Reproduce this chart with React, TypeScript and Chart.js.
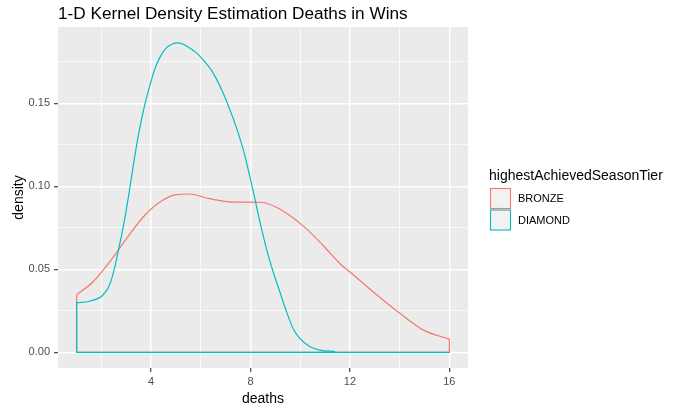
import React, { useEffect, useRef } from "react";
import { Chart, registerables } from "chart.js";

Chart.register(...registerables);

const chartTitle = "1-D Kernel Density Estimation Deaths in Wins";
const xTitle = "deaths";
const yTitle = "density";
const legendTitle = "highestAchievedSeasonTier";
const seriesNames = ["BRONZE", "DIAMOND"];
const seriesColors = ["#F8766D", "#00BFC4"];

const xMajorTicks = [4, 8, 12, 16];
const xMinorTicks = [2, 6, 10, 14];
const yMajorTicks = [0, 0.05, 0.1, 0.15];
const yMinorTicks = [0.025, 0.075, 0.125, 0.175];
const yTickLabels = ["0.00", "0.05", "0.10", "0.15"];
const xLimits = [0.25, 16.75];
const yLimits = [-0.0094, 0.196];
const dataRange = [1, 16];

const bronzeX = [1, 1.65, 2.32, 3.0, 3.67, 4.34, 5.01, 5.55, 6.22, 7.03, 7.56, 8.1, 8.5, 9.04, 9.58, 10.25, 10.92, 11.6, 12.0, 12.94, 14.02, 14.96, 16];
const bronzeY = [0.0348, 0.0424, 0.0544, 0.0684, 0.0814, 0.0904, 0.095, 0.0954, 0.093, 0.0908, 0.0905, 0.0905, 0.0903, 0.0874, 0.0824, 0.0744, 0.0644, 0.0534, 0.0484, 0.0364, 0.0234, 0.0134, 0.008];

const diamondX = [1, 1.516, 2.05, 2.32, 2.52, 2.73, 2.93, 3.13, 3.32, 3.53, 3.73, 3.94, 4.14, 4.34, 4.61, 4.85, 5.08, 5.42, 5.82, 6.08, 6.49, 6.89, 7.16, 7.43, 7.7, 7.97, 8.1, 8.24, 8.37, 8.64, 8.91, 9.18, 9.45, 9.71, 9.98, 10.39, 10.79, 11.4];
const diamondY = [0.03, 0.0308, 0.0344, 0.0404, 0.0504, 0.065, 0.08, 0.098, 0.1164, 0.1344, 0.1484, 0.1604, 0.1704, 0.1774, 0.1834, 0.1858, 0.1864, 0.1846, 0.1804, 0.1764, 0.1684, 0.1564, 0.1464, 0.1354, 0.1224, 0.106, 0.0975, 0.088, 0.079, 0.0624, 0.0484, 0.0364, 0.0244, 0.0144, 0.0084, 0.0034, 0.0014, 0.0005];

const near = (a: number, list: number[]) => list.some((v) => Math.abs(v - a) < 1e-9);
const zip = (xs: number[], ys: number[]) => xs.map((x, i) => ({ x, y: ys[i] }));

const FONT = "'Liberation Sans', Arial, sans-serif";

export default function App() {
  const ref = useRef<HTMLCanvasElement | null>(null);

  useEffect(() => {
    const canvas = ref.current;
    if (!canvas) return;

    const panelPlugin = {
      id: "panelBg",
      beforeDraw(chart: any) {
        const { ctx, chartArea: a } = chart;
        ctx.save();
        ctx.fillStyle = "#FFFFFF";
        ctx.fillRect(0, 0, chart.width, chart.height);
        ctx.fillStyle = "#EBEBEB";
        ctx.fillRect(a.left, a.top, a.right - a.left, a.bottom - a.top);
        ctx.restore();
      },
    };

    const textPlugin = {
      id: "texts",
      afterDraw(chart: any) {
        const { ctx, chartArea: a } = chart;
        ctx.save();
        ctx.fillStyle = "#000000";
        ctx.textBaseline = "alphabetic";
        ctx.textAlign = "left";
        ctx.font = `17.2px ${FONT}`;
        ctx.fillText(chartTitle, a.left, 19);

        ctx.font = `14px ${FONT}`;
        ctx.textAlign = "center";
        ctx.fillText(xTitle, (a.left + a.right) / 2, 403);

        ctx.save();
        ctx.translate(22.5, (a.top + a.bottom) / 2);
        ctx.rotate(-Math.PI / 2);
        ctx.fillText(yTitle, 0, 0);
        ctx.restore();

        ctx.textAlign = "left";
        ctx.fillText(legendTitle, 489, 180);

        ctx.font = `11px ${FONT}`;
        ctx.textBaseline = "middle";
        seriesNames.forEach((name, i) => {
          const top = 188.5 + i * 21.5;
          ctx.fillStyle = "#F2F2F2";
          ctx.fillRect(490.5, top, 20, 20);
          ctx.strokeStyle = seriesColors[i];
          ctx.lineWidth = 1.1;
          ctx.strokeRect(490.5, top, 20, 20);
          ctx.fillStyle = "#000000";
          ctx.fillText(name, 518, top + 10.5);
        });
        ctx.restore();
      },
    };

    const lw = 1.2;
    const mkLine = (data: any[], color: string, smooth: boolean) => ({
      data,
      borderColor: color,
      backgroundColor: color,
      borderWidth: lw,
      pointRadius: 0,
      fill: false,
      tension: 0,
      cubicInterpolationMode: smooth ? "monotone" : "default",
    });

    const diamondBase = [
      { x: dataRange[0], y: diamondY[0] },
      { x: dataRange[0], y: 0 },
      { x: dataRange[1], y: 0 },
    ];
    const bronzeBase = [
      { x: dataRange[0], y: bronzeY[0] },
      { x: dataRange[0], y: 0 },
      { x: dataRange[1], y: 0 },
      { x: dataRange[1], y: bronzeY[bronzeY.length - 1] },
    ];

    const chart = new Chart(canvas, {
      type: "line",
      data: {
        datasets: [
          mkLine(zip(diamondX, diamondY), seriesColors[1], true),
          mkLine(diamondBase, seriesColors[1], false),
          mkLine(zip(bronzeX, bronzeY), seriesColors[0], true),
          mkLine(bronzeBase, seriesColors[0], false),
        ] as any,
      },
      options: {
        animation: false,
        responsive: false,
        devicePixelRatio: 1,
        layout: { padding: { left: 0, top: 27, right: 213, bottom: 0 } },
        plugins: { legend: { display: false }, tooltip: { enabled: false }, title: { display: false } },
        scales: {
          x: {
            type: "linear",
            min: xLimits[0],
            max: xLimits[1],
            afterBuildTicks: (s: any) => {
              s.ticks = [...xMinorTicks, ...xMajorTicks].sort((p, q) => p - q).map((v) => ({ value: v }));
            },
            afterFit: (s: any) => {
              s.height = 44;
            },
            border: { display: false },
            grid: {
              color: "#FFFFFF",
              lineWidth: (c: any) => (near(c.tick?.value, xMajorTicks) ? 1.4 : 0.7),
              drawTicks: true,
              tickLength: 4,
              tickWidth: 1.1,
              tickColor: (c: any) => (near(c.tick?.value, xMajorTicks) ? "#333333" : "rgba(0,0,0,0)"),
            },
            ticks: {
              autoSkip: false,
              maxRotation: 0,
              padding: 3,
              color: "#4D4D4D",
              font: { family: FONT, size: 11 },
              callback: (v: any) => (near(Number(v), xMajorTicks) ? String(v) : ""),
            },
          },
          y: {
            type: "linear",
            min: yLimits[0],
            max: yLimits[1],
            afterBuildTicks: (s: any) => {
              s.ticks = [...yMajorTicks, ...yMinorTicks].sort((p, q) => p - q).map((v) => ({ value: v }));
            },
            afterFit: (s: any) => {
              s.width = 58;
            },
            border: { display: false },
            grid: {
              color: "#FFFFFF",
              lineWidth: (c: any) => (near(c.tick?.value, yMajorTicks) ? 1.4 : 0.7),
              drawTicks: true,
              tickLength: 4,
              tickWidth: 1.1,
              tickColor: (c: any) => (near(c.tick?.value, yMajorTicks) ? "#333333" : "rgba(0,0,0,0)"),
            },
            ticks: {
              autoSkip: false,
              padding: 4,
              color: "#4D4D4D",
              font: { family: FONT, size: 11 },
              callback: (v: any) => {
                const i = yMajorTicks.findIndex((t) => Math.abs(t - Number(v)) < 1e-9);
                return i >= 0 ? yTickLabels[i] : "";
              },
            },
          },
        },
      } as any,
      plugins: [panelPlugin, textPlugin],
    });

    return () => chart.destroy();
  }, []);

  return (
    <canvas
      ref={ref}
      width={681}
      height={412}
      style={{ position: "absolute", left: 0, top: 0, width: 681, height: 412 }}
    />
  );
}
